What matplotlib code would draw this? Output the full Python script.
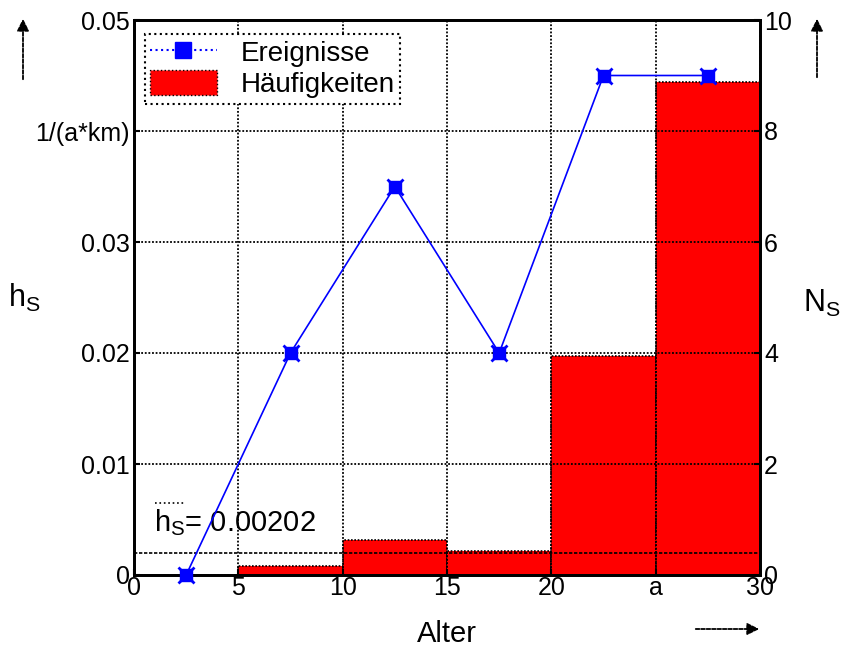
import matplotlib
matplotlib.use("Agg")
import matplotlib.pyplot as plt
from matplotlib.lines import Line2D
from matplotlib.patches import Patch, FancyArrowPatch

plt.rcParams['font.family'] = ['Liberation Sans', 'DejaVu Sans']
plt.rcParams['mathtext.fontset'] = 'custom'
plt.rcParams['mathtext.rm'] = 'Liberation Sans'

# Data
bin_edges = [0, 5, 10, 15, 20, 25, 30]
hs_values = [0.0, 0.0008, 0.00315, 0.00215, 0.0197, 0.0444]
mid_points = [2.5, 7.5, 12.5, 17.5, 22.5, 27.5]
events = [0, 4, 7, 4, 9, 9]
hs_mean = 0.00202
x_ticks = [0, 5, 10, 15, 20, 25, 30]
x_ticklabels = ['0', '5', '10', '15', '20', 'a', '30']
y_ticks = [0, 0.01, 0.02, 0.03, 0.04, 0.05]
y_ticklabels = ['0', '0.01', '0.02', '0.03', '1/(a*km)', '0.05']
y2_ticks = [0, 2, 4, 6, 8, 10]

TICK_FS = 18
fig = plt.figure(figsize=(8.43, 6.53), dpi=100)
ax = fig.add_axes([134/843, 78/653, (760-134)/843, (575-20)/653])

widths = [bin_edges[i+1] - bin_edges[i] for i in range(len(hs_values))]
ax.bar(bin_edges[:-1], hs_values, width=widths, align='edge', color='#ff0000',
       edgecolor='black', linewidth=1.2, linestyle=(0, (1, 1)), zorder=1)
ax.axhline(hs_mean, color='black', linestyle=(0, (2, 1)), linewidth=1.2, zorder=3)

ax.set_xlim(0, 30)
ax.set_ylim(0, 0.05)
ax.set_xticks(x_ticks)
ax.set_xticklabels(x_ticklabels, fontsize=TICK_FS)
ax.set_yticks(y_ticks)
ax.set_yticklabels(y_ticklabels, fontsize=TICK_FS)
ax.grid(True, color='black', linestyle=(0, (1, 1)), linewidth=1.3, zorder=2)
ax.set_axisbelow(False)
ax.tick_params(direction='in', length=4, width=1.5, pad=3)
ax.tick_params(axis='x', pad=1)
for s in ax.spines.values():
    s.set_linewidth(2)
    s.set_zorder(5)

ax2 = ax.twinx()
ax2.plot(mid_points, events, color='#0000ff', linewidth=1.2, marker='s',
         markersize=9, markerfacecolor='#0000ff', markeredgecolor='#0000ff',
         zorder=4, clip_on=False)
ax2.plot(mid_points, events, linestyle='none', marker='x', markersize=11,
         markeredgewidth=2, color='#0000ff', zorder=4, clip_on=False)
ax2.set_ylim(0, 10)
ax2.set_yticks(y2_ticks)
ax2.set_yticklabels([str(v) for v in y2_ticks], fontsize=TICK_FS)
ax2.tick_params(direction='in', length=4, width=1.5, pad=3)
for s in ax2.spines.values():
    s.set_linewidth(2)

# Legend
handles = [Line2D([0], [0], color='#0000ff', linestyle=':', linewidth=1.5, marker='s',
                  markersize=11, markerfacecolor='#0000ff', markeredgecolor='#0000ff'),
           Patch(facecolor='#ff0000', edgecolor='black', linestyle=':', linewidth=1.0)]
leg = ax2.legend(handles, ['Ereignisse', 'Häufigkeiten'], loc='upper left',
                 bbox_to_anchor=(0.008, 0.985), fontsize=20, fancybox=False,
                 framealpha=1, edgecolor='black', borderpad=0.2, labelspacing=0.1,
                 handlelength=2.4, handleheight=1.0, handletextpad=0.85, borderaxespad=0.2)
leg.get_frame().set_linestyle(':')
leg.get_frame().set_linewidth(1.5)

# Text annotations
ax.text(0.95, 0.0033, r'h$_\mathrm{S}$= 0.00202', fontsize=21, ha='left', va='bottom', zorder=6)
ax.plot([1.0, 2.4], [0.0065, 0.0065], color='black', linestyle=':', linewidth=1.2, zorder=6)

fig.text(24/843, 1 - 298/653, r'h$_\mathrm{S}$', fontsize=22, ha='center', va='center')
fig.text(822/843, 1 - 303/653, r'N$_\mathrm{S}$', fontsize=22, ha='center', va='center')
fig.text(447/843, 1 - 634/653, 'Alter', fontsize=21, ha='center', va='center')

# Arrows
def arrow(p0, p1):
    a = FancyArrowPatch(p0, p1, transform=fig.transFigure, arrowstyle='-|>',
                        mutation_scale=18, color='black', linestyle=(0, (2, 1)),
                        linewidth=1.3)
    fig.patches.append(a)

arrow((23/843, 1 - 82/653), (23/843, 1 - 16/653))
arrow((817/843, 1 - 80/653), (817/843, 1 - 16/653))
arrow((693/843, 1 - 629/653), (762/843, 1 - 629/653))

fig.savefig('out.png', dpi=100)
